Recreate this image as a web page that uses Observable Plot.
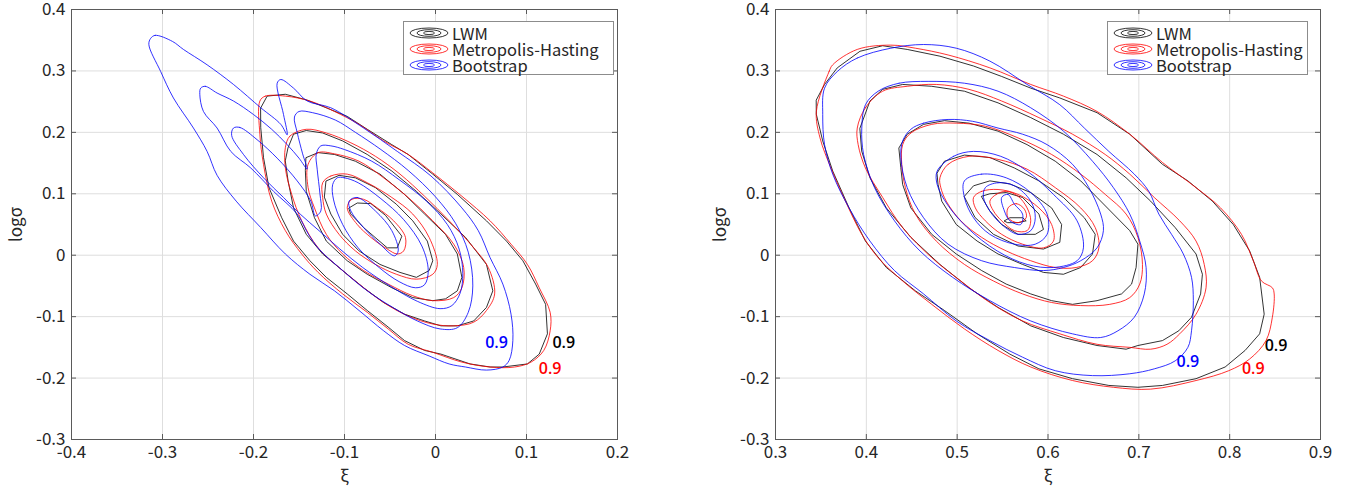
<!DOCTYPE html>
<html><head><meta charset="utf-8">
<script src="https://cdn.jsdelivr.net/npm/d3@7"></script>
<script src="https://cdn.jsdelivr.net/npm/@observablehq/plot@0.6"></script>
<style>
body{margin:0;background:#fff;}
#wrap{position:relative;width:1347px;height:492px;overflow:hidden;font-family:'Noto Sans CJK JP','Noto Sans',sans-serif;}
.panel{position:absolute;top:0;}
.legend{position:absolute;background:#fff;border:1px solid #8c8c8c;box-sizing:border-box;}
.legend .row{position:absolute;left:0;height:16px;line-height:16px;display:flex;align-items:center;font-size:16.5px;color:#262626;white-space:nowrap;}
.legend .row svg{margin-left:5px;margin-right:3px;}
.legend .row span{display:inline-block;height:16px;line-height:16px;overflow:visible;}
</style></head><body><div id="wrap"></div>
<script>
// ---------- axes ----------
const yTicks = [-0.3,-0.2,-0.1,0,0.1,0.2,0.3,0.4];
const xTicksLeft = [-0.4,-0.3,-0.2,-0.1,0,0.1,0.2];
const xTicksRight = [0.3,0.4,0.5,0.6,0.7,0.8,0.9];
const seriesNames = ["LWM","Metropolis-Hasting","Bootstrap"];
const seriesColors = ["#000000","#ff0000","#0000ff"];

// ---------- left panel contours (outer 0.9 -> inner) ----------
const lwmLeft = [
 [[-0.192,0.240],[-0.185,0.259],[-0.165,0.262],[-0.142,0.253],[-0.120,0.240],[-0.097,0.226],[-0.075,0.205],[-0.048,0.180],[-0.030,0.164],[-0.003,0.132],[0.024,0.099],[0.056,0.056],[0.078,0.023],[0.096,-0.009],[0.110,-0.047],[0.121,-0.080],[0.123,-0.128],[0.114,-0.161],[0.101,-0.177],[0.074,-0.182],[0.060,-0.182],[0.038,-0.177],[0.006,-0.161],[-0.012,-0.155],[-0.034,-0.139],[-0.052,-0.117],[-0.075,-0.090],[-0.097,-0.063],[-0.120,-0.036],[-0.138,-0.009],[-0.156,0.023],[-0.169,0.061],[-0.183,0.110],[-0.189,0.159],[-0.192,0.207]],
 [[-0.162,0.175],[-0.156,0.197],[-0.142,0.203],[-0.124,0.199],[-0.102,0.186],[-0.075,0.164],[-0.048,0.137],[-0.021,0.104],[0.006,0.067],[0.033,0.029],[0.056,-0.015],[0.063,-0.058],[0.056,-0.085],[0.042,-0.107],[0.024,-0.115],[0.006,-0.115],[-0.012,-0.107],[-0.034,-0.096],[-0.057,-0.077],[-0.079,-0.053],[-0.102,-0.025],[-0.124,0.002],[-0.142,0.034],[-0.156,0.077],[-0.162,0.121],[-0.165,0.153]],
 [[-0.142,0.159],[-0.129,0.167],[-0.111,0.164],[-0.088,0.153],[-0.061,0.132],[-0.034,0.099],[-0.012,0.067],[0.011,0.034],[0.024,0.002],[0.029,-0.036],[0.024,-0.058],[0.011,-0.071],[-0.003,-0.074],[-0.025,-0.069],[-0.048,-0.053],[-0.075,-0.031],[-0.097,-0.009],[-0.120,0.023],[-0.133,0.061],[-0.142,0.104],[-0.143,0.137]],
 [[-0.120,0.121],[-0.106,0.130],[-0.088,0.126],[-0.066,0.110],[-0.043,0.083],[-0.025,0.056],[-0.009,0.023],[-0.003,-0.009],[-0.007,-0.025],[-0.021,-0.036],[-0.039,-0.028],[-0.061,-0.015],[-0.084,0.007],[-0.102,0.034],[-0.115,0.067],[-0.122,0.094]],
 [[-0.095,0.077],[-0.086,0.085],[-0.071,0.084],[-0.055,0.065],[-0.037,0.031],[-0.042,0.012],[-0.053,0.012],[-0.079,0.045],[-0.093,0.067]]
];
const mhLeft = [
 [[-0.193,0.251],[-0.187,0.259],[-0.165,0.259],[-0.138,0.251],[-0.111,0.234],[-0.084,0.213],[-0.057,0.186],[-0.030,0.164],[-0.003,0.134],[0.029,0.096],[0.060,0.056],[0.083,0.018],[0.101,-0.015],[0.114,-0.053],[0.126,-0.093],[0.126,-0.123],[0.119,-0.155],[0.105,-0.174],[0.087,-0.182],[0.060,-0.182],[0.029,-0.174],[-0.003,-0.158],[-0.030,-0.145],[-0.052,-0.120],[-0.075,-0.093],[-0.102,-0.063],[-0.129,-0.028],[-0.147,0.002],[-0.165,0.040],[-0.180,0.088],[-0.189,0.148],[-0.193,0.197]],
 [[-0.165,0.175],[-0.160,0.194],[-0.142,0.205],[-0.120,0.199],[-0.093,0.183],[-0.066,0.161],[-0.039,0.132],[-0.012,0.096],[0.015,0.056],[0.042,0.012],[0.058,-0.020],[0.065,-0.063],[0.056,-0.090],[0.042,-0.109],[0.020,-0.115],[-0.003,-0.112],[-0.030,-0.099],[-0.057,-0.077],[-0.084,-0.047],[-0.106,-0.020],[-0.129,0.012],[-0.147,0.056],[-0.158,0.099],[-0.165,0.142]],
 [[-0.140,0.148],[-0.129,0.167],[-0.111,0.165],[-0.084,0.153],[-0.057,0.126],[-0.030,0.094],[-0.003,0.056],[0.020,0.018],[0.031,-0.020],[0.029,-0.053],[0.020,-0.069],[-0.003,-0.074],[-0.025,-0.066],[-0.052,-0.047],[-0.079,-0.025],[-0.102,0.002],[-0.120,0.034],[-0.133,0.077],[-0.140,0.110]],
 [[-0.124,0.118],[-0.115,0.129],[-0.097,0.132],[-0.075,0.118],[-0.048,0.094],[-0.025,0.067],[-0.007,0.029],[0.002,-0.015],[-0.003,-0.031],[-0.021,-0.039],[-0.043,-0.031],[-0.066,-0.015],[-0.088,0.007],[-0.106,0.034],[-0.120,0.067],[-0.124,0.094]],
 [[-0.097,0.077],[-0.092,0.091],[-0.079,0.091],[-0.064,0.077],[-0.046,0.056],[-0.033,0.029],[-0.035,0.007],[-0.042,0.002],[-0.053,0.010],[-0.071,0.029],[-0.086,0.050]]
];
const bsLeft = [
 [[-0.313,0.353],[-0.308,0.358],[-0.289,0.348],[-0.277,0.335],[-0.251,0.310],[-0.222,0.278],[-0.192,0.240],[-0.170,0.213],[-0.163,0.196],[-0.167,0.229],[-0.174,0.280],[-0.170,0.286],[-0.156,0.272],[-0.141,0.251],[-0.115,0.240],[-0.079,0.207],[-0.042,0.169],[-0.005,0.129],[0.029,0.077],[0.047,0.040],[0.060,-0.004],[0.074,-0.047],[0.083,-0.096],[0.085,-0.139],[0.081,-0.171],[0.074,-0.182],[0.056,-0.187],[0.033,-0.182],[0.015,-0.177],[-0.007,-0.164],[-0.034,-0.147],[-0.057,-0.123],[-0.084,-0.090],[-0.111,-0.058],[-0.138,-0.031],[-0.165,0.002],[-0.192,0.045],[-0.219,0.088],[-0.240,0.130],[-0.251,0.169],[-0.266,0.207],[-0.288,0.256],[-0.302,0.299],[-0.315,0.343]],
 [[-0.258,0.272],[-0.253,0.275],[-0.240,0.264],[-0.222,0.251],[-0.200,0.229],[-0.180,0.205],[-0.163,0.180],[-0.150,0.158],[-0.141,0.140],[-0.146,0.165],[-0.152,0.200],[-0.155,0.225],[-0.150,0.234],[-0.135,0.232],[-0.110,0.220],[-0.088,0.200],[-0.060,0.172],[-0.030,0.138],[0.000,0.095],[0.022,0.052],[0.036,0.005],[0.041,-0.050],[0.036,-0.093],[0.024,-0.118],[0.005,-0.120],[-0.020,-0.107],[-0.047,-0.085],[-0.075,-0.058],[-0.102,-0.025],[-0.128,0.010],[-0.140,0.035],[-0.152,0.067],[-0.178,0.104],[-0.203,0.142],[-0.225,0.169],[-0.240,0.207],[-0.255,0.234],[-0.259,0.262]],
 [[-0.222,0.207],[-0.215,0.208],[-0.196,0.188],[-0.174,0.158],[-0.152,0.121],[-0.137,0.088],[-0.132,0.064],[-0.126,0.072],[-0.127,0.100],[-0.130,0.140],[-0.131,0.165],[-0.126,0.178],[-0.115,0.178],[-0.100,0.172],[-0.070,0.153],[-0.040,0.123],[-0.010,0.088],[0.013,0.050],[0.026,0.010],[0.030,-0.030],[0.027,-0.062],[0.018,-0.082],[0.005,-0.087],[-0.020,-0.075],[-0.050,-0.050],[-0.080,-0.020],[-0.105,0.010],[-0.128,0.040],[-0.148,0.066],[-0.167,0.094],[-0.189,0.126],[-0.211,0.164],[-0.224,0.195]],
 [[-0.108,0.126],[-0.100,0.126],[-0.085,0.118],[-0.060,0.092],[-0.035,0.058],[-0.015,0.015],[-0.008,-0.025],[-0.012,-0.048],[-0.022,-0.053],[-0.040,-0.043],[-0.062,-0.020],[-0.085,0.012],[-0.102,0.050],[-0.112,0.090],[-0.113,0.115]],
 [[-0.095,0.088],[-0.086,0.094],[-0.066,0.072],[-0.048,0.040],[-0.041,0.007],[-0.045,-0.001],[-0.061,0.018],[-0.079,0.045],[-0.093,0.072]]
];

// ---------- right panel contours (outer -> inner) ----------
const lwmRight = [
 [[0.345,0.253],[0.354,0.278],[0.368,0.305],[0.393,0.332],[0.418,0.341],[0.445,0.335],[0.481,0.324],[0.518,0.308],[0.549,0.291],[0.581,0.272],[0.613,0.256],[0.654,0.232],[0.690,0.197],[0.726,0.148],[0.754,0.121],[0.781,0.088],[0.804,0.050],[0.822,0.007],[0.833,-0.036],[0.838,-0.096],[0.833,-0.128],[0.817,-0.155],[0.795,-0.182],[0.763,-0.201],[0.726,-0.212],[0.699,-0.215],[0.667,-0.212],[0.627,-0.201],[0.590,-0.185],[0.558,-0.161],[0.522,-0.128],[0.486,-0.090],[0.454,-0.058],[0.422,-0.020],[0.399,0.023],[0.381,0.077],[0.363,0.137],[0.352,0.186],[0.345,0.229]],
 [[0.393,0.207],[0.404,0.251],[0.418,0.270],[0.440,0.278],[0.472,0.275],[0.508,0.267],[0.545,0.248],[0.581,0.224],[0.617,0.197],[0.654,0.164],[0.686,0.126],[0.713,0.088],[0.740,0.045],[0.763,0.002],[0.770,-0.031],[0.768,-0.063],[0.758,-0.101],[0.744,-0.123],[0.726,-0.139],[0.699,-0.147],[0.686,-0.153],[0.654,-0.147],[0.617,-0.134],[0.581,-0.115],[0.545,-0.085],[0.513,-0.053],[0.481,-0.015],[0.449,0.029],[0.422,0.077],[0.404,0.126],[0.395,0.169]],
 [[0.436,0.175],[0.445,0.197],[0.463,0.213],[0.486,0.219],[0.513,0.215],[0.545,0.202],[0.577,0.180],[0.608,0.153],[0.636,0.121],[0.654,0.094],[0.672,0.067],[0.690,0.040],[0.699,0.018],[0.697,-0.020],[0.692,-0.047],[0.681,-0.063],[0.654,-0.074],[0.627,-0.080],[0.604,-0.074],[0.581,-0.063],[0.554,-0.047],[0.527,-0.025],[0.499,0.002],[0.472,0.034],[0.449,0.077],[0.440,0.115],[0.438,0.142]],
 [[0.478,0.134],[0.486,0.153],[0.508,0.163],[0.536,0.159],[0.563,0.142],[0.590,0.121],[0.617,0.094],[0.640,0.061],[0.652,0.034],[0.649,0.002],[0.636,-0.020],[0.617,-0.031],[0.595,-0.028],[0.572,-0.015],[0.545,0.002],[0.522,0.023],[0.499,0.050],[0.483,0.088],[0.479,0.115]],
 [[0.508,0.096],[0.518,0.113],[0.536,0.121],[0.558,0.116],[0.581,0.102],[0.604,0.077],[0.615,0.050],[0.613,0.021],[0.595,0.010],[0.567,0.015],[0.540,0.034],[0.520,0.061]],
 [[0.527,0.096],[0.536,0.100],[0.554,0.102],[0.572,0.094],[0.590,0.067],[0.595,0.042],[0.586,0.034],[0.567,0.034],[0.549,0.050],[0.536,0.072]],
 [[0.552,0.056],[0.558,0.061],[0.572,0.061],[0.576,0.056],[0.567,0.053],[0.556,0.053]]
];
const mhRight = [
 [[0.345,0.234],[0.359,0.299],[0.363,0.310],[0.390,0.335],[0.427,0.342],[0.454,0.337],[0.490,0.326],[0.536,0.305],[0.581,0.278],[0.617,0.259],[0.654,0.234],[0.690,0.197],[0.726,0.151],[0.763,0.110],[0.790,0.077],[0.813,0.034],[0.826,-0.009],[0.835,-0.042],[0.847,-0.053],[0.849,-0.063],[0.847,-0.101],[0.840,-0.139],[0.822,-0.169],[0.799,-0.188],[0.763,-0.204],[0.713,-0.218],[0.672,-0.215],[0.627,-0.204],[0.581,-0.182],[0.545,-0.155],[0.508,-0.120],[0.472,-0.080],[0.440,-0.042],[0.413,-0.004],[0.395,0.034],[0.377,0.088],[0.361,0.142],[0.349,0.191]],
 [[0.390,0.207],[0.399,0.240],[0.418,0.267],[0.445,0.275],[0.477,0.278],[0.513,0.270],[0.549,0.251],[0.590,0.224],[0.627,0.197],[0.663,0.164],[0.690,0.132],[0.717,0.094],[0.745,0.056],[0.763,0.023],[0.772,-0.015],[0.774,-0.053],[0.763,-0.096],[0.745,-0.128],[0.731,-0.145],[0.713,-0.153],[0.690,-0.150],[0.654,-0.145],[0.613,-0.128],[0.572,-0.107],[0.536,-0.077],[0.504,-0.042],[0.472,-0.004],[0.440,0.045],[0.418,0.094],[0.399,0.142],[0.391,0.180]],
 [[0.440,0.180],[0.449,0.199],[0.472,0.213],[0.499,0.215],[0.531,0.210],[0.567,0.191],[0.604,0.164],[0.636,0.132],[0.663,0.099],[0.686,0.067],[0.699,0.029],[0.704,-0.015],[0.701,-0.047],[0.690,-0.069],[0.668,-0.080],[0.636,-0.082],[0.604,-0.077],[0.572,-0.063],[0.540,-0.042],[0.508,-0.015],[0.477,0.023],[0.454,0.067],[0.443,0.110],[0.439,0.148]],
 [[0.481,0.126],[0.490,0.148],[0.513,0.161],[0.545,0.156],[0.577,0.140],[0.608,0.110],[0.636,0.077],[0.652,0.045],[0.656,0.012],[0.649,-0.009],[0.631,-0.020],[0.608,-0.020],[0.581,-0.009],[0.554,0.007],[0.527,0.029],[0.504,0.056],[0.488,0.088],[0.482,0.110]],
 [[0.518,0.094],[0.527,0.104],[0.545,0.107],[0.567,0.099],[0.590,0.077],[0.604,0.050],[0.606,0.023],[0.595,0.012],[0.572,0.018],[0.549,0.034],[0.531,0.056],[0.520,0.077]],
 [[0.536,0.088],[0.543,0.099],[0.554,0.104],[0.567,0.096],[0.577,0.077],[0.581,0.056],[0.577,0.040],[0.563,0.040],[0.549,0.056],[0.540,0.072]],
 [[0.556,0.077],[0.565,0.084],[0.574,0.075],[0.576,0.061],[0.567,0.053],[0.556,0.061]]
];
const bsRight = [
 [[0.427,0.337],[0.390,0.321],[0.368,0.299],[0.354,0.272],[0.352,0.229],[0.354,0.180],[0.363,0.132],[0.381,0.077],[0.404,0.023],[0.431,-0.025],[0.463,-0.063],[0.499,-0.107],[0.536,-0.139],[0.572,-0.166],[0.608,-0.188],[0.649,-0.196],[0.690,-0.193],[0.717,-0.185],[0.740,-0.172],[0.754,-0.150],[0.758,-0.123],[0.760,-0.074],[0.758,-0.036],[0.749,0.002],[0.736,0.034],[0.722,0.067],[0.711,0.104],[0.695,0.132],[0.667,0.169],[0.640,0.207],[0.613,0.245],[0.577,0.278],[0.536,0.316],[0.499,0.337],[0.463,0.343]],
 [[0.468,0.283],[0.436,0.280],[0.413,0.267],[0.399,0.245],[0.395,0.207],[0.397,0.164],[0.409,0.110],[0.431,0.056],[0.459,0.007],[0.495,-0.036],[0.536,-0.074],[0.581,-0.107],[0.627,-0.128],[0.658,-0.134],[0.677,-0.123],[0.695,-0.101],[0.706,-0.063],[0.708,-0.020],[0.701,0.023],[0.690,0.067],[0.672,0.110],[0.649,0.153],[0.617,0.202],[0.581,0.240],[0.545,0.267],[0.508,0.280]],
 [[0.490,0.221],[0.463,0.215],[0.449,0.205],[0.440,0.186],[0.438,0.159],[0.445,0.110],[0.463,0.061],[0.490,0.018],[0.527,-0.009],[0.563,-0.020],[0.595,-0.025],[0.617,-0.020],[0.636,-0.009],[0.654,0.012],[0.661,0.040],[0.658,0.067],[0.645,0.110],[0.627,0.148],[0.599,0.180],[0.572,0.197],[0.545,0.207],[0.517,0.218]],
 [[0.478,0.137],[0.496,0.161],[0.518,0.169],[0.548,0.161],[0.577,0.137],[0.606,0.099],[0.632,0.056],[0.639,0.012],[0.632,-0.009],[0.606,-0.020],[0.577,-0.015],[0.544,0.007],[0.511,0.045],[0.489,0.083],[0.478,0.115]],
 [[0.508,0.121],[0.527,0.132],[0.554,0.126],[0.581,0.102],[0.599,0.067],[0.599,0.034],[0.586,0.018],[0.563,0.018],[0.536,0.034],[0.518,0.061],[0.508,0.094]],
 [[0.531,0.110],[0.545,0.118],[0.563,0.113],[0.581,0.088],[0.586,0.061],[0.581,0.040],[0.567,0.034],[0.549,0.050],[0.536,0.072],[0.529,0.094]],
 [[0.549,0.094],[0.556,0.099],[0.563,0.083],[0.572,0.067],[0.570,0.050],[0.558,0.056],[0.552,0.072]]
];

// ---------- "0.9" level labels ----------
const levelLabelsLeft = [
 {x:0.067, y:-0.142, t:"0.9", s:2},
 {x:0.141, y:-0.142, t:"0.9", s:0},
 {x:0.126, y:-0.185, t:"0.9", s:1}
];
const levelLabelsRight = [
 {x:0.754, y:-0.174, t:"0.9", s:2},
 {x:0.851, y:-0.147, t:"0.9", s:0},
 {x:0.826, y:-0.185, t:"0.9", s:1}
];

const fmt = d => String(Math.round(d*10)/10);
const FONT = "'Noto Sans CJK JP','Noto Sans',sans-serif";

function toRows(list, s) {
  const rows = [];
  list.forEach((pts, i) => pts.forEach(([x, y]) => rows.push({s, id: s + "-" + i, x, y})));
  return rows;
}

function makePanel({width, ml, mr, xDomain, xTicks, lwm, mh, bs, labels}) {
  const mt = 9, mb = 53, height = 492;
  const fw = width - ml - mr, fh = height - mt - mb;
  const lineOpts = (c, curve) => ({x: "x", y: "y", z: "id", stroke: c, strokeWidth: 1, strokeOpacity: 0.8, curve});
  return Plot.plot({
    width, height, marginLeft: ml, marginRight: mr, marginTop: mt, marginBottom: mb,
    x: {domain: xDomain},
    y: {domain: [-0.3, 0.4]},
    style: {fontFamily: FONT, fontSize: "17px", color: "#262626", background: "transparent", overflow: "visible"},
    marks: [
      Plot.gridX(xTicks, {stroke: "#dedede", strokeOpacity: 1}),
      Plot.gridY(yTicks, {stroke: "#dedede", strokeOpacity: 1}),
      Plot.line(toRows(lwm, "k"), lineOpts(seriesColors[0], "linear-closed")),
      Plot.line(toRows(mh, "r"), lineOpts(seriesColors[1], "catmull-rom-closed")),
      Plot.line(toRows(bs, "b"), lineOpts(seriesColors[2], "catmull-rom-closed")),
      Plot.text(labels, {x: "x", y: "y", text: "t", fill: d => seriesColors[d.s], fontSize: 16, fontWeight: 600, fontFamily: "'Open Sans','Noto Sans',sans-serif"}),
      Plot.frame({stroke: "#5a5a5a", strokeWidth: 1}),
      Plot.tickX(xTicks, {x: d => d, insetTop: fh - 5, stroke: "#5a5a5a"}),
      Plot.tickX(xTicks, {x: d => d, insetBottom: fh - 5, stroke: "#5a5a5a"}),
      Plot.tickY(yTicks, {y: d => d, insetRight: fw - 5, stroke: "#5a5a5a"}),
      Plot.tickY(yTicks, {y: d => d, insetLeft: fw - 5, stroke: "#5a5a5a"}),
      Plot.axisX(xTicks, {tickSize: 0, tickPadding: 6, tickFormat: fmt, label: "ξ", labelAnchor: "center", labelArrow: "none", labelOffset: 42}),
      Plot.axisY(yTicks, {tickSize: 0, tickPadding: 6, tickFormat: fmt, label: "logσ", labelAnchor: "center", labelArrow: "none", labelOffset: 62})
    ]
  });
}

function makeLegend(left, top, width) {
  const div = document.createElement("div");
  div.className = "legend";
  Object.assign(div.style, {left: left + "px", top: top + "px", width: width + "px", height: "54px"});
  seriesNames.forEach((name, i) => {
    const row = document.createElement("div");
    row.className = "row";
    row.style.top = (3 + i * 16) + "px";
    const c = seriesColors[i];
    row.innerHTML = `<svg width="40" height="12" viewBox="0 0 40 12"><g fill="none" stroke="${c}" stroke-opacity="0.8" stroke-width="1"><ellipse cx="20" cy="6" rx="19" ry="5"/><ellipse cx="20" cy="6" rx="12" ry="3.3"/><ellipse cx="20" cy="6" rx="5.5" ry="1.6"/></g></svg><span>${name}</span>`;
    div.appendChild(row);
  });
  return div;
}

const wrap = document.getElementById("wrap");
const left = makePanel({width: 650, ml: 71, mr: 33, xDomain: [-0.4, 0.2], xTicks: xTicksLeft, lwm: lwmLeft, mh: mhLeft, bs: bsLeft, labels: levelLabelsLeft});
left.classList.add("panel"); left.style.left = "0px";
const right = makePanel({width: 647, ml: 75, mr: 27, xDomain: [0.3, 0.9], xTicks: xTicksRight, lwm: lwmRight, mh: mhRight, bs: bsRight, labels: levelLabelsRight});
right.classList.add("panel"); right.style.left = "700px";
wrap.appendChild(left);
wrap.appendChild(right);
wrap.appendChild(makeLegend(403, 21, 211));
wrap.appendChild(makeLegend(1107, 21, 201));
</script></body></html>
